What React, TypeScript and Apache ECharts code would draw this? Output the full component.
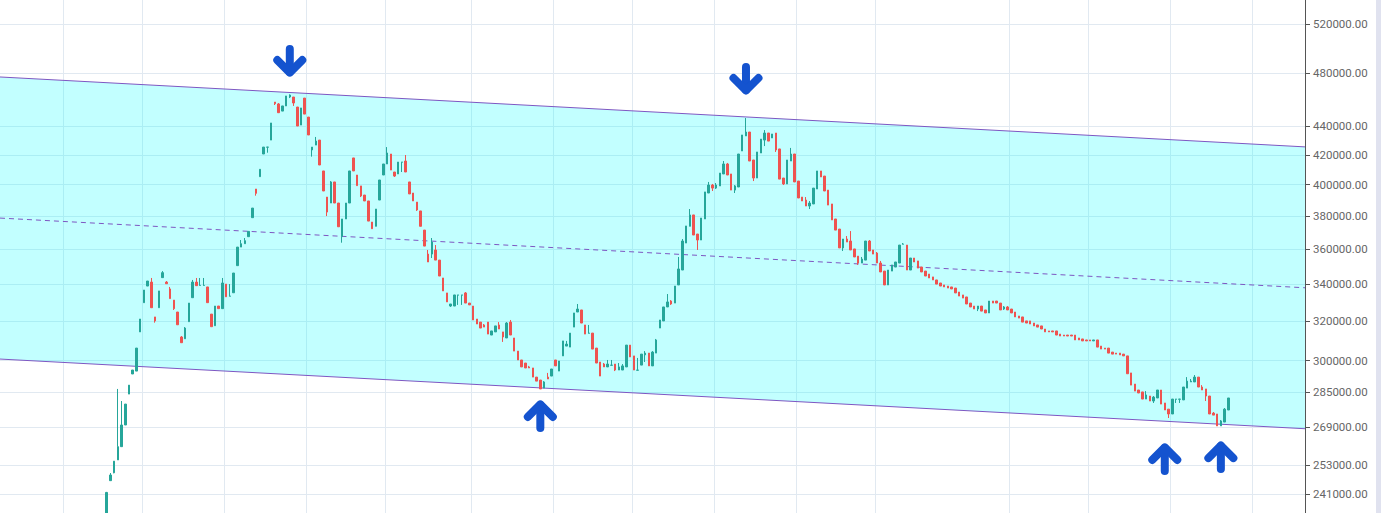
import React, { useEffect, useRef } from "react";
import * as echarts from "echarts";

// ---- axis ticks (price labels on the right axis) ----
const TICK_VALUES = [241000, 253000, 269000, 285000, 300000, 320000, 340000, 360000, 380000, 400000, 420000, 440000, 480000, 520000];
const Y_MIN = 233800;
const Y_MAX = 541100;

// ---- category layout ----
const LEAD_EMPTY = 28;
const TRAIL_EMPTY = 20;

// ---- candles ----
const OPEN = [
  231000,246500,249700,255000,260600,270000,284000,293500,294900,314400,
  329800,338900,341100,322200,327100,343600,341100,337300,331200,324800,
  311800,310900,319700,332500,341100,339200,339200,338400,323700,317600,
  328000,326600,340000,333300,335200,350400,361200,363200,367400,379000,
  397200,405300,420600,425300,430300,457900,456500,451200,455000,461700,
  461700,454200,441000,460900,446800,423400,426800,430300,409100,392000,
  388200,401800,388200,367400,378200,388200,417900,406400,399200,393300,
  389500,376300,373700,390100,406400,413800,420600,408400,407100,415000,
  415800,401800,394600,388800,383200,371400,357100,357100,359500,353600,
  343400,335100,328000,328000,333900,333900,335100,329600,328000,321100,
  319500,318000,319500,312800,314400,318000,314400,311300,319500,311300,
  304700,300300,298800,296900,296400,292000,290600,286800,292000,292500,
  300300,294900,302300,307200,306700,316900,324800,325900,318000,313700,
  313800,306200,299300,298300,296900,297700,298300,295400,295400,296900,
  307700,302300,295300,297800,302800,303700,297400,303700,316400,320100,
  327500,330700,329600,339500,347900,363600,373700,380700,369000,365400,
  378200,394600,399800,397800,399200,407100,413800,407100,396500,398500,
  422700,433200,436000,416500,404400,421300,430300,435300,431800,435300,
  424100,404400,400500,415800,420600,402400,392000,390100,386300,387600,
  397200,409100,405700,396500,387600,378200,372000,360700,366000,364800,
  360100,355900,351900,353600,364800,359500,357700,351900,347300,339500,
  347300,349600,351900,362900,362400,347900,354800,353100,349600,347300,
  345600,344000,342300,340600,339500,338900,338400,337800,335600,334000,
  332900,329600,328000,326400,328000,325900,324300,330700,330700,329600,
  326400,327500,326400,324800,322700,322200,320100,320100,319000,318000,
  317500,315900,314900,314900,314900,313300,312800,312800,312800,312800,
  311300,310800,310300,310300,309800,310300,307200,306200,306200,304200,
  303700,303700,303200,302300,294000,288700,285900,285000,281700,283100,
  280800,282200,285900,279900,277100,274900,281600,281600,281300,286800,
  289700,289700,292000,287300,286400,283100,275300,274900,269600,271300,
  276700,
];
const CLOSE = [
  241800,248800,254500,260600,270000,279400,288200,295400,306200,321100,
  336700,341700,327100,320100,336200,346400,340200,332000,326600,318100,
  308900,316400,329600,341100,339100,339300,339300,329800,317100,328000,
  326600,340600,333000,333400,346200,361200,363200,365000,370600,385000,
  394400,410200,425400,425400,442500,456700,450000,455000,462500,463200,
  457200,440300,453500,449000,433900,425400,429600,413100,395900,382500,
  401800,388200,373400,378200,388200,409100,409100,399400,392700,389500,
  376900,372200,384400,403100,413800,421300,409700,405700,415100,415100,
  408400,394000,389500,383800,373700,361800,352500,364200,353600,344500,
  336200,330200,329100,334000,334000,334000,329600,328600,320600,318500,
  316400,316900,313300,314900,317500,315900,311800,319000,312800,304700,
  300300,296900,296400,296400,292000,290100,286400,289700,291100,295900,
  297400,299800,309800,308200,313800,324300,326400,319000,313300,313800,
  305700,298800,292500,296900,298300,297800,295400,296900,297400,307700,
  301800,295400,295400,303200,303700,297400,304200,310300,320600,327500,
  330200,329100,338900,348500,364800,373900,380700,368400,365400,378800,
  395300,399800,397800,399800,407700,413800,406400,396500,399200,420600,
  433900,436000,415800,404400,422000,431000,435300,429600,434600,423400,
  403700,400500,416500,420600,401800,391400,389500,386300,388200,397800,
  409100,405100,395900,386900,377600,371400,360700,366000,364200,359500,
  355400,351900,354200,364800,358900,357100,351900,346800,339500,347900,
  350800,352500,362400,363000,347900,354800,352500,349000,346800,344500,
  343400,342300,340000,338900,338400,337800,337300,335100,333400,332300,
  329100,327500,326400,328000,325300,324300,330700,329600,329600,325900,
  327500,325900,324300,322200,321600,319500,319000,318500,317500,316900,
  315900,314400,314400,314400,312800,312300,312300,312300,312300,310300,
  310300,309800,309800,309800,310300,306700,305700,305700,303700,303200,
  303200,302800,302300,293600,288200,285400,284500,281700,283600,280800,
  282600,285900,279400,276700,274900,281700,281700,281700,287300,290100,
  290100,292000,287300,285900,283100,274900,274400,269600,271800,277100,
  282200,
];
const LOW = [
  230000,246500,249500,255000,260600,270000,284000,293500,294900,314400,
  329800,338900,327100,319200,327100,343600,340200,332000,325900,318100,
  308900,310900,319700,332500,339100,339200,339200,329800,317100,317600,
  326600,326600,333000,333300,335200,350400,361200,363200,367400,379000,
  392900,405300,420600,421500,430300,455700,450000,451200,455000,460900,
  455000,440300,441000,449000,433900,418800,426800,413100,395900,380000,
  388200,388200,373400,363800,378200,388200,409100,399400,392000,389500,
  376900,372200,373700,390100,406400,413800,409700,405100,407100,408400,
  408400,394000,389500,383200,373700,361800,352500,354800,353600,344500,
  336200,330200,327500,328000,328600,328600,329600,328600,320600,318500,
  316400,316900,313300,312800,314400,315900,309300,311300,312800,304700,
  300300,296900,296400,296400,292000,290100,286400,286800,291100,292500,
  297400,294900,302300,307200,306700,316900,324800,319000,313300,313700,
  305700,298800,292500,296900,296900,297700,294900,295400,295400,296900,
  301800,295400,295300,297800,299300,297400,297400,303700,316400,320100,
  327500,328600,329600,339500,347900,363600,373700,368400,359500,365400,
  378200,394600,395900,397200,399200,407100,406400,396500,394600,398500,
  422700,433200,415800,402400,404400,421300,426100,429600,431800,422000,
  403700,399800,400500,415800,401800,391400,389500,386300,384400,387600,
  397200,405100,395900,386900,377600,371400,360700,358900,364200,359500,
  355400,350800,351900,353600,358900,357100,351900,346800,339500,339500,
  347300,349600,351900,362900,347900,347900,352500,349000,346800,344500,
  343400,342300,340000,338900,338400,337800,337300,335100,333400,332300,
  329100,327500,326400,325300,325300,324300,324300,329600,329600,325900,
  325900,325900,324300,322200,321600,319500,319000,318500,317500,316900,
  315900,314400,314400,314400,312800,312300,312300,312300,312300,310300,
  310300,309800,309800,309800,309800,306700,305700,305700,303700,303200,
  303200,302800,302300,293600,288200,285400,284500,281700,281700,280800,
  279900,282200,279400,276700,273100,274900,279900,279900,281300,286800,
  289700,289700,287300,285900,280800,274900,274400,269600,269600,271300,
  276700,
];
const HIGH = [
  242000,249600,254500,286400,280800,279400,288200,295400,306200,321100,
  336700,341700,343400,322200,336200,347300,341700,338400,331200,324800,
  312300,316900,329600,342300,343400,343400,343400,338400,323700,328000,
  328000,343400,340000,340000,346200,361200,365400,366600,370600,385000,
  397200,410200,425400,425400,442500,457900,457200,455000,462500,463700,
  461700,454200,453500,460900,446800,425400,432500,430300,409100,392000,
  402400,401800,388200,378200,388200,409100,417900,406400,399200,393300,
  389500,376300,384400,403100,413800,425400,420600,408400,415100,415100,
  419900,401800,394600,388800,383200,371400,359500,366600,362400,353600,
  343400,335100,329100,334000,334000,334000,335600,329600,328000,321100,
  319500,318500,319500,314900,317500,319500,314400,319500,320600,311300,
  304700,300300,298800,297400,296400,292000,290600,290100,294000,295900,
  300300,299800,309800,309800,313800,324300,329100,325900,318000,318000,
  313800,306200,299300,298800,300300,300300,298300,298800,298300,307700,
  307700,302300,301300,303200,304700,303700,304700,310800,320600,327500,
  334500,331200,338900,355400,366000,373900,384400,380700,369000,378800,
  395300,401800,400500,401100,407700,415800,414500,407100,399800,420600,
  433900,446100,436000,416500,422000,431000,437400,435300,434600,435300,
  424100,404400,416500,424800,420600,402400,392000,392000,389500,397800,
  409100,409100,405700,396500,387600,378200,372000,366000,367800,370800,
  360100,355900,355400,364800,365400,359500,358300,353100,347300,347900,
  350800,352500,362400,363600,362400,354800,354800,353100,349600,347300,
  345600,344000,342300,340600,339500,338900,338400,337800,335600,334000,
  332900,329600,328000,328000,328000,325900,330700,330700,330700,329600,
  328000,328000,326400,324800,322700,322200,320100,320100,319000,318000,
  317500,315900,314900,314900,314900,313300,312800,312800,312800,312800,
  311300,310800,310300,310300,310300,310300,307200,306200,306200,304200,
  303700,303700,303200,302300,294000,288700,285900,285000,285400,283100,
  283100,285900,285900,279900,277100,281700,281700,281700,287300,292000,
  291100,293000,292000,288200,286400,283100,275800,274900,272200,277600,
  282200,
];

const CATEGORIES = Array.from({ length: LEAD_EMPTY + OPEN.length + TRAIL_EMPTY }, (_, i) => `P${i + 1}`);

// vertical grid lines (category boundaries)
const GRID_CATEGORY_INDEX = [17, 38, 60, 82, 103, 126, 148, 169, 191, 213, 234, 270, 291, 313, 335];

// ---- channel: price at the first and at the last category ----
const CHANNEL_UPPER = [477000, 425600];
const CHANNEL_MID = [378700, 338000];
const CHANNEL_LOWER = [300700, 268400];

// ---- arrows: category index, price at the tip, direction (1 up, -1 down) ----
const ARROW_INDEX = [77, 199, 144, 311, 326];
const ARROW_PRICE = [477000, 463200, 281300, 262200, 263000];
const ARROW_DIR = [-1, -1, 1, 1, 1];

const UP = "#26a69a";
const DOWN = "#ef5350";
const GRID_COLOR = "#e1e9f1";
const CHANNEL_LINE = "#7e57c2";
const ARROW_COLOR = "#1453cf";

export default function App() {
  const ref = useRef<HTMLDivElement>(null);

  useEffect(() => {
    if (!ref.current) return;
    const chart = echarts.init(ref.current, undefined, { renderer: "svg" });
    const lastIdx = CATEGORIES.length - 1;

    const candleData = CATEGORIES.map((_, i) => {
      const j = i - LEAD_EMPTY;
      if (j < 0 || j >= OPEN.length) return ["-", "-", "-", "-"];
      return [Math.log(OPEN[j]), Math.log(CLOSE[j]), Math.log(LOW[j]), Math.log(HIGH[j])];
    });

    const tickLn = TICK_VALUES.map((v) => Math.log(v));

    const option: any = {
      animation: false,
      backgroundColor: "#ffffff",
      grid: { left: 0, right: 76, top: 0, bottom: 0, containLabel: false, outerBoundsMode: "none" },
      xAxis: {
        type: "category",
        data: CATEGORIES,
        boundaryGap: true,
        axisLine: { show: false },
        axisTick: { show: false },
        axisLabel: { show: false },
        splitLine: {
          show: true,
          interval: (index: number) => GRID_CATEGORY_INDEX.indexOf(index) >= 0,
          lineStyle: { color: GRID_COLOR, width: 1 },
        },
      },
      yAxis: {
        type: "value",
        position: "right",
        min: Math.log(Y_MIN),
        max: Math.log(Y_MAX),
        scale: true,
        axisLine: { show: true, lineStyle: { color: "#555555", width: 1 } },
        axisTick: { show: true, length: 5, customValues: tickLn, lineStyle: { color: "#555555" } },
        axisLabel: {
          show: true,
          customValues: tickLn,
          margin: 8,
          color: "#666666",
          fontFamily: "Roboto, sans-serif",
          fontSize: 11.5,
          formatter: (v: number) => {
            let best = TICK_VALUES[0];
            for (const t of TICK_VALUES) {
              if (Math.abs(Math.log(t) - v) < Math.abs(Math.log(best) - v)) best = t;
            }
            return best.toFixed(2);
          },
        },
        splitLine: { show: true, lineStyle: { color: GRID_COLOR, width: 1 } },
      },
      graphic: [
        { type: "rect", shape: { x: 1376, y: 0, width: 5, height: 513 }, style: { fill: "#e0e2ef" }, silent: true },
      ],
      series: [
        {
          type: "custom",
          name: "channel",
          z: 1,
          silent: true,
          data: [[0, Math.log(CHANNEL_UPPER[0])]],
          renderItem: (params: any, api: any) => {
            const cs = params.coordSys;
            const x0 = cs.x;
            const x1 = cs.x + cs.width;
            const line = (v: number[]) => {
              const a = api.coord([0, Math.log(v[0])]);
              const b = api.coord([lastIdx, Math.log(v[1])]);
              const k = (b[1] - a[1]) / (b[0] - a[0]);
              return [
                [x0, a[1] + k * (x0 - a[0])],
                [x1, a[1] + k * (x1 - a[0])],
              ];
            };
            const up = line(CHANNEL_UPPER);
            const mid = line(CHANNEL_MID);
            const lo = line(CHANNEL_LOWER);
            return {
              type: "group",
              children: [
                {
                  type: "polygon",
                  shape: { points: [up[0], up[1], lo[1], lo[0]] },
                  style: { fill: "rgba(0,255,255,0.24)" },
                },
                {
                  type: "line",
                  shape: { x1: up[0][0], y1: up[0][1], x2: up[1][0], y2: up[1][1] },
                  style: { stroke: CHANNEL_LINE, lineWidth: 1 },
                },
                {
                  type: "line",
                  shape: { x1: lo[0][0], y1: lo[0][1], x2: lo[1][0], y2: lo[1][1] },
                  style: { stroke: CHANNEL_LINE, lineWidth: 1 },
                },
                {
                  type: "line",
                  shape: { x1: mid[0][0], y1: mid[0][1], x2: mid[1][0], y2: mid[1][1] },
                  style: { stroke: CHANNEL_LINE, lineWidth: 1, lineDash: [5, 4] },
                },
              ],
            };
          },
        },
        {
          type: "candlestick",
          name: "price",
          z: 3,
          clip: true,
          barWidth: 2,
          data: candleData,
          itemStyle: {
            color: UP,
            color0: DOWN,
            borderColor: UP,
            borderColor0: DOWN,
            borderWidth: 1,
          },
        },
        {
          type: "custom",
          name: "arrows",
          z: 4,
          silent: true,
          data: ARROW_INDEX.map((idx, i) => [idx, Math.log(ARROW_PRICE[i]), ARROW_DIR[i]]),
          renderItem: (params: any, api: any) => {
            const pt = api.coord([api.value(0), api.value(1)]);
            const x = pt[0];
            const y = pt[1];
            const s = api.value(2) > 0 ? 1 : -1;
            const st = { stroke: ARROW_COLOR, lineWidth: 8, lineCap: "round", lineJoin: "round", fill: null };
            return {
              type: "group",
              children: [
                { type: "line", shape: { x1: x, y1: y + s * 5, x2: x, y2: y + s * 28 }, style: st },
                {
                  type: "polyline",
                  shape: { points: [[x - 12.5, y + s * 17], [x, y + s * 4.5], [x + 12.5, y + s * 17]] },
                  style: st,
                },
              ],
            };
          },
        },
      ],
    };

    chart.setOption(option);
    return () => chart.dispose();
  }, []);

  return (
    <div
      ref={ref}
      style={{ position: "fixed", left: 0, top: 0, width: 1381, height: 513, background: "#ffffff" }}
    />
  );
}
